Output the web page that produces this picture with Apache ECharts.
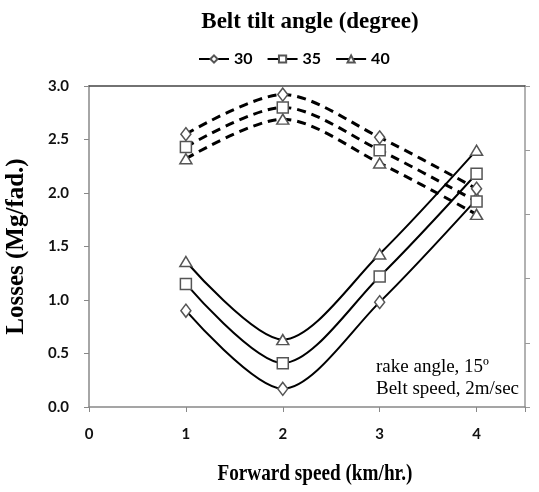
<!DOCTYPE html>
<html><head><meta charset="utf-8">
<script src="https://cdn.jsdelivr.net/npm/echarts@6/dist/echarts.min.js"></script>
<style>html,body{margin:0;padding:0;background:#fff}#c{width:539px;height:492px}</style>
</head><body><div id="c"></div>
<script>
const speeds = [1, 2, 3, 4];
const tiltAngles = ['30', '35', '40'];
const upper30 = [2.55, 2.92, 2.52, 2.04];
const upper35 = [2.43, 2.80, 2.40, 1.92];
const upper40 = [2.32, 2.69, 2.28, 1.80];
const lower30 = [0.90, 0.17, 0.98, 1.94];
const lower35 = [1.15, 0.41, 1.22, 2.18];
const lower40 = [1.36, 0.63, 1.43, 2.40];
const yTicks = [0, 0.5, 1.0, 1.5, 2.0, 2.5, 3.0];

const symbols = ['diamond', 'rect', 'triangle'];
const symSizes = [[10, 13], 11, [12, 10]];
const pair = (xs, ys) => xs.map((x, i) => [x, ys[i]]);
const lowers = [lower30, lower35, lower40];
const uppers = [upper30, upper35, upper40];

const series = [];
tiltAngles.forEach((name, k) => {
  series.push({
    name: name, type: 'line', smooth: 0.3, data: pair(speeds, lowers[k]),
    symbol: symbols[k], symbolSize: symSizes[k], z: 3,
    lineStyle: { color: '#000', width: 2 },
    itemStyle: { color: '#fff', borderColor: '#555', borderWidth: 1.5 }
  });
});
tiltAngles.forEach((name, k) => {
  series.push({
    name: name + ' (upper)', type: 'line', smooth: 0.3, data: pair(speeds, uppers[k]),
    symbol: symbols[k], symbolSize: symSizes[k], z: 3,
    lineStyle: { color: '#000', width: 3, type: [9, 6] },
    itemStyle: { color: '#fff', borderColor: '#555', borderWidth: 1.5 }
  });
});

const chart = echarts.init(document.getElementById('c'), null, { renderer: 'canvas' });
chart.setOption({
  animation: false,
  backgroundColor: '#fff',
  title: {
    text: 'Belt tilt angle (degree)', left: 305, textAlign: 'center', top: 6,
    textStyle: { fontFamily: 'Liberation Serif', fontWeight: 'bold', fontSize: 23, color: '#000' }
  },
  legend: {
    data: tiltAngles, left: 193, top: 46, itemWidth: 30, itemHeight: 9, itemGap: 14,
    textStyle: { fontFamily: 'Lato', fontWeight: 'bold', fontSize: 16, color: '#000' }
  },
  grid: { left: 89, right: 14, top: 86, bottom: 85, outerBoundsMode: 'none', containLabel: false },
  xAxis: [{
    type: 'value', min: 0, max: 4.5, interval: 1,
    axisLine: { lineStyle: { color: '#888', width: 1.5 } },
    axisTick: { show: true, length: 5, lineStyle: { color: '#888' } },
    splitLine: { show: false },
    axisLabel: {
      margin: 20, color: '#111', fontFamily: 'Lato', fontWeight: 'bold', fontSize: 15,
      formatter: v => (Number.isInteger(v) && v <= 4) ? String(v) : ''
    }
  }, {
    type: 'value', position: 'top', min: 0, max: 4.5,
    axisLine: { show: true, onZero: false, lineStyle: { color: '#444', width: 1.5 } },
    axisTick: { show: false }, axisLabel: { show: false }, splitLine: { show: false }
  }],
  yAxis: [{
    type: 'value', min: 0, max: 3, interval: 0.5,
    name: 'Losses (Mg/fad.)', nameLocation: 'middle', nameGap: 60,
    nameTextStyle: { fontFamily: 'Liberation Serif', fontWeight: 'bold', fontSize: 25, color: '#000' },
    axisLine: { show: true, lineStyle: { color: '#888', width: 1.5 } },
    axisTick: { show: true, length: 5, lineStyle: { color: '#888' } },
    splitLine: { show: false },
    axisLabel: {
      margin: 20, color: '#111', fontFamily: 'Lato', fontWeight: 'bold', fontSize: 15,
      formatter: v => yTicks.includes(v) ? v.toFixed(1) : ''
    }
  }, {
    type: 'value', position: 'right', min: 0, max: 5, interval: 1,
    axisLine: { show: true, onZero: false, lineStyle: { color: '#999', width: 1.5 } },
    axisTick: { show: true, length: 5, lineStyle: { color: '#999' } },
    axisLabel: { show: false }, splitLine: { show: false }
  }],
  graphic: [{
    type: 'text', x: 315, y: 474, scaleX: 0.8,
    style: {
      text: 'Forward speed (km/hr.)', font: 'bold 24px "Liberation Serif"', fill: '#000',
      align: 'center', verticalAlign: 'middle'
    }
  }, {
    type: 'text', left: 376, top: 356,
    style: {
      text: 'rake angle, 15º\nBelt speed, 2m/sec',
      font: '19px "Liberation Serif"', fill: '#000', lineHeight: 22
    }
  }],
  series: series
});
</script></body></html>
